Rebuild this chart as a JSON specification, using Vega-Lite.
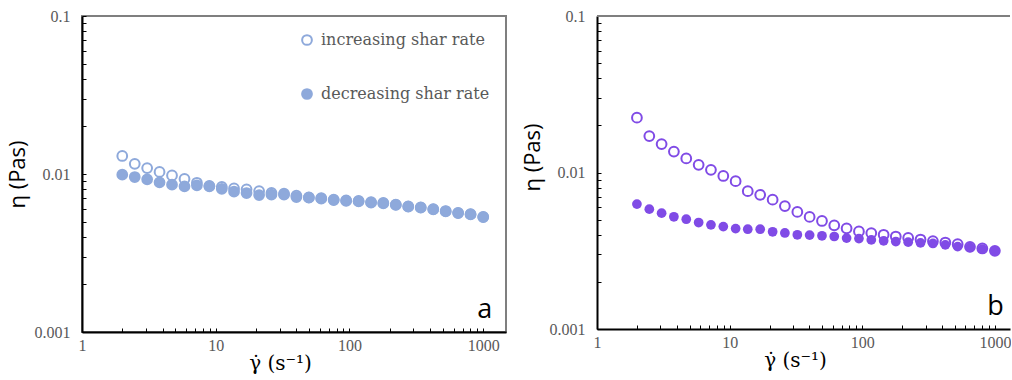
{
  "$schema": "https://vega.github.io/schema/vega-lite/v6.json",
  "padding": {"left": 5, "top": 7, "right": 0, "bottom": 0},
  "background": "white",
  "spacing": 14,
  "resolve": {"scale": {"fill": "independent"}, "legend": {"fill": "independent"}},
  "config": {
    "view": {"stroke": "#7f7f7f", "strokeWidth": 2},
    "axis": {"grid": false, "domainColor": "#000000", "domainWidth": 2, "tickColor": "#000000", "tickWidth": 1, "tickSize": -4, "labelFont": "Liberation Serif", "labelFontSize": 16, "labelColor": "#595959", "titleColor": "#000000", "labelOverlap": false, "labelFlush": false},
    "axisX": {"labelPadding": 9, "titleFont": "DejaVu Serif", "titleFontSize": 20, "titleFontWeight": "normal", "titlePadding": 0, "titleX": 198, "titleAlign": "center"},
    "axisY": {"labelPadding": 16, "titleFont": "Open Sans", "titleFontSize": 22, "titleFontWeight": "normal", "titlePadding": 5}
  },
  "hconcat": [
    {
      "width": 424,
      "height": 316,
      "layer": [
        {
          "data": {"values": [
            {"x": 2, "y": 0.0130, "series": "increasing shar rate"},
            {"x": 2.48, "y": 0.0116, "series": "increasing shar rate"},
            {"x": 3.07, "y": 0.0109, "series": "increasing shar rate"},
            {"x": 3.8, "y": 0.0103, "series": "increasing shar rate"},
            {"x": 4.71, "y": 0.0098, "series": "increasing shar rate"},
            {"x": 5.84, "y": 0.0093, "series": "increasing shar rate"},
            {"x": 7.23, "y": 0.0088, "series": "increasing shar rate"},
            {"x": 8.96, "y": 0.0084, "series": "increasing shar rate"},
            {"x": 11.1, "y": 0.0083, "series": "increasing shar rate"},
            {"x": 13.7, "y": 0.0081, "series": "increasing shar rate"},
            {"x": 17, "y": 0.0080, "series": "increasing shar rate"},
            {"x": 21.1, "y": 0.0078, "series": "increasing shar rate"},
            {"x": 26.1, "y": 0.0076, "series": "increasing shar rate"},
            {"x": 32.4, "y": 0.0075, "series": "increasing shar rate"},
            {"x": 40.1, "y": 0.0073, "series": "increasing shar rate"},
            {"x": 49.7, "y": 0.00712, "series": "increasing shar rate"},
            {"x": 61.5, "y": 0.00703, "series": "increasing shar rate"},
            {"x": 76.2, "y": 0.00689, "series": "increasing shar rate"},
            {"x": 94.4, "y": 0.0068, "series": "increasing shar rate"},
            {"x": 117, "y": 0.00675, "series": "increasing shar rate"},
            {"x": 145, "y": 0.00663, "series": "increasing shar rate"},
            {"x": 179, "y": 0.00656, "series": "increasing shar rate"},
            {"x": 222, "y": 0.0064, "series": "increasing shar rate"},
            {"x": 275, "y": 0.00624, "series": "increasing shar rate"},
            {"x": 341, "y": 0.00615, "series": "increasing shar rate"},
            {"x": 423, "y": 0.006, "series": "increasing shar rate"},
            {"x": 524, "y": 0.00583, "series": "increasing shar rate"},
            {"x": 649, "y": 0.00568, "series": "increasing shar rate"},
            {"x": 804, "y": 0.00557, "series": "increasing shar rate"},
            {"x": 1000, "y": 0.00536, "series": "increasing shar rate"},
            {"x": 2, "y": 0.0099, "series": "decreasing shar rate"},
            {"x": 2.48, "y": 0.00957, "series": "decreasing shar rate"},
            {"x": 3.07, "y": 0.00925, "series": "decreasing shar rate"},
            {"x": 3.8, "y": 0.00886, "series": "decreasing shar rate"},
            {"x": 4.71, "y": 0.00856, "series": "decreasing shar rate"},
            {"x": 5.84, "y": 0.00835, "series": "decreasing shar rate"},
            {"x": 7.23, "y": 0.00848, "series": "decreasing shar rate"},
            {"x": 8.96, "y": 0.00835, "series": "decreasing shar rate"},
            {"x": 11.1, "y": 0.00804, "series": "decreasing shar rate"},
            {"x": 13.7, "y": 0.00773, "series": "decreasing shar rate"},
            {"x": 17, "y": 0.00758, "series": "decreasing shar rate"},
            {"x": 21.1, "y": 0.00736, "series": "decreasing shar rate"},
            {"x": 26.1, "y": 0.0074, "series": "decreasing shar rate"},
            {"x": 32.4, "y": 0.0074, "series": "decreasing shar rate"},
            {"x": 40.1, "y": 0.00715, "series": "decreasing shar rate"},
            {"x": 49.7, "y": 0.00708, "series": "decreasing shar rate"},
            {"x": 61.5, "y": 0.00698, "series": "decreasing shar rate"},
            {"x": 76.2, "y": 0.00684, "series": "decreasing shar rate"},
            {"x": 94.4, "y": 0.00675, "series": "decreasing shar rate"},
            {"x": 117, "y": 0.00671, "series": "decreasing shar rate"},
            {"x": 145, "y": 0.00659, "series": "decreasing shar rate"},
            {"x": 179, "y": 0.00652, "series": "decreasing shar rate"},
            {"x": 222, "y": 0.00637, "series": "decreasing shar rate"},
            {"x": 275, "y": 0.00621, "series": "decreasing shar rate"},
            {"x": 341, "y": 0.00612, "series": "decreasing shar rate"},
            {"x": 423, "y": 0.00597, "series": "decreasing shar rate"},
            {"x": 524, "y": 0.0058, "series": "decreasing shar rate"},
            {"x": 649, "y": 0.00566, "series": "decreasing shar rate"},
            {"x": 804, "y": 0.00555, "series": "decreasing shar rate"},
            {"x": 1000, "y": 0.00534, "series": "decreasing shar rate"}
          ]},
          "mark": {"type": "point", "filled": true, "size": 95, "strokeWidth": 2, "stroke": "#8EA9DB", "opacity": 1},
          "encoding": {
            "x": {"field": "x", "type": "quantitative", "scale": {"type": "log", "domain": [1, 1480], "nice": false},
                  "axis": {"title": "γ̇ (s⁻¹)", "values": [1,2,3,4,5,6,7,8,9,10,20,30,40,50,60,70,80,90,100,200,300,400,500,600,700,800,900,1000], "format": "d", "labelExpr": "indexof([1,10,100,1000], datum.value) >= 0 ? datum.label : ''"}},
            "y": {"field": "y", "type": "quantitative", "scale": {"type": "log", "domain": [0.001, 0.1], "nice": false},
                  "axis": {"title": "η (Pas)", "values": [0.001,0.002,0.003,0.004,0.005,0.006,0.007,0.008,0.009,0.01,0.02,0.03,0.04,0.05,0.06,0.07,0.08,0.09,0.1], "labelExpr": "datum.value == 0.001 ? '0.001' : datum.value == 0.01 ? '0.01' : datum.value == 0.1 ? '0.1' : ''"}},
            "fill": {"field": "series", "type": "nominal", "scale": {"domain": ["increasing shar rate", "decreasing shar rate"], "range": ["transparent", "#8EA9DB"]},
                     "legend": {"title": null, "orient": "top-right", "offset": 16, "padding": 0, "rowPadding": 36, "labelFont": "DejaVu Serif", "labelFontSize": 16, "labelColor": "#595959", "labelOffset": 6, "labelLimit": 400, "symbolType": "circle", "symbolSize": 95, "symbolStrokeWidth": 2, "symbolStrokeColor": "#8EA9DB"}}
          }
        },
        {
          "data": {"values": [{"label": "a"}]},
          "mark": {"type": "text", "align": "right", "baseline": "alphabetic", "font": "Open Sans", "fontSize": 27, "color": "#000000"},
          "encoding": {
            "x": {"datum": 1166, "type": "quantitative"},
            "y": {"datum": 0.00123, "type": "quantitative"},
            "text": {"field": "label"}
          }
        }
      ]
    },
    {
      "width": 413,
      "height": 313,
      "view": {"stroke": null},
      "layer": [
        {
          "data": {"values": [{}]},
          "mark": {"type": "rule", "color": "#7f7f7f", "strokeWidth": 2},
          "encoding": {"y": {"datum": 0.1, "type": "quantitative"}}
        },
        {
          "data": {"values": [
            {"x": 2, "y": 0.0224}, {"x": 2.48, "y": 0.0171}, {"x": 3.07, "y": 0.0152}, {"x": 3.8, "y": 0.0136}, {"x": 4.71, "y": 0.0123},
            {"x": 5.84, "y": 0.0112}, {"x": 7.23, "y": 0.0104}, {"x": 8.96, "y": 0.0095}, {"x": 11.1, "y": 0.0088}, {"x": 13.7, "y": 0.0076},
            {"x": 17, "y": 0.0072}, {"x": 21.1, "y": 0.0067}, {"x": 26.1, "y": 0.0061}, {"x": 32.4, "y": 0.0056}, {"x": 40.1, "y": 0.0052},
            {"x": 49.7, "y": 0.0049}, {"x": 61.5, "y": 0.0046}, {"x": 76.2, "y": 0.0044}, {"x": 94.4, "y": 0.0042}, {"x": 117, "y": 0.0041},
            {"x": 145, "y": 0.0040}, {"x": 179, "y": 0.0039}, {"x": 222, "y": 0.00382}, {"x": 275, "y": 0.00373}, {"x": 341, "y": 0.00364},
            {"x": 423, "y": 0.00357}, {"x": 524, "y": 0.00348}, {"x": 649, "y": 0.00335}, {"x": 804, "y": 0.00327}, {"x": 1000, "y": 0.00316}
          ]},
          "mark": {"type": "point", "filled": false, "size": 95, "strokeWidth": 2, "color": "#804BE6", "opacity": 1},
          "encoding": {
            "x": {"field": "x", "type": "quantitative", "scale": {"type": "log", "domain": [1, 1300], "nice": false},
                  "axis": {"title": "γ̇ (s⁻¹)", "values": [1,2,3,4,5,6,7,8,9,10,20,30,40,50,60,70,80,90,100,200,300,400,500,600,700,800,900,1000], "format": "d", "labelExpr": "indexof([1,10,100,1000], datum.value) >= 0 ? datum.label : ''"}},
            "y": {"field": "y", "type": "quantitative", "scale": {"type": "log", "domain": [0.001, 0.1], "nice": false},
                  "axis": {"title": "η (Pas)", "titleY": 141, "values": [0.001,0.002,0.003,0.004,0.005,0.006,0.007,0.008,0.009,0.01,0.02,0.03,0.04,0.05,0.06,0.07,0.08,0.09,0.1], "labelExpr": "datum.value == 0.001 ? '0.001' : datum.value == 0.01 ? '0.01' : datum.value == 0.1 ? '0.1' : ''"}}
          }
        },
        {
          "data": {"values": [
            {"x": 2, "y": 0.00628}, {"x": 2.48, "y": 0.00583}, {"x": 3.07, "y": 0.0055}, {"x": 3.8, "y": 0.00521}, {"x": 4.71, "y": 0.00503},
            {"x": 5.84, "y": 0.00479}, {"x": 7.23, "y": 0.00463}, {"x": 8.96, "y": 0.00451}, {"x": 11.1, "y": 0.00438}, {"x": 13.7, "y": 0.00434},
            {"x": 17, "y": 0.00434}, {"x": 21.1, "y": 0.00418}, {"x": 26.1, "y": 0.00411}, {"x": 32.4, "y": 0.004}, {"x": 40.1, "y": 0.00398},
            {"x": 49.7, "y": 0.00394}, {"x": 61.5, "y": 0.0039}, {"x": 76.2, "y": 0.00381}, {"x": 94.4, "y": 0.00378}, {"x": 117, "y": 0.00371},
            {"x": 145, "y": 0.00366}, {"x": 179, "y": 0.00362}, {"x": 222, "y": 0.00359}, {"x": 275, "y": 0.00355}, {"x": 341, "y": 0.00352},
            {"x": 423, "y": 0.00345}, {"x": 524, "y": 0.00336}, {"x": 649, "y": 0.00332}, {"x": 804, "y": 0.00324}, {"x": 1000, "y": 0.00316}
          ]},
          "mark": {"type": "point", "filled": true, "size": 95, "strokeWidth": 2, "color": "#804BE6", "opacity": 1},
          "encoding": {
            "x": {"field": "x", "type": "quantitative"},
            "y": {"field": "y", "type": "quantitative"}
          }
        },
        {
          "data": {"values": [{"label": "b"}]},
          "mark": {"type": "text", "align": "right", "baseline": "alphabetic", "font": "Open Sans", "fontSize": 27, "color": "#000000"},
          "encoding": {
            "x": {"datum": 1167, "type": "quantitative"},
            "y": {"datum": 0.00123, "type": "quantitative"},
            "text": {"field": "label"}
          }
        }
      ]
    }
  ]
}
